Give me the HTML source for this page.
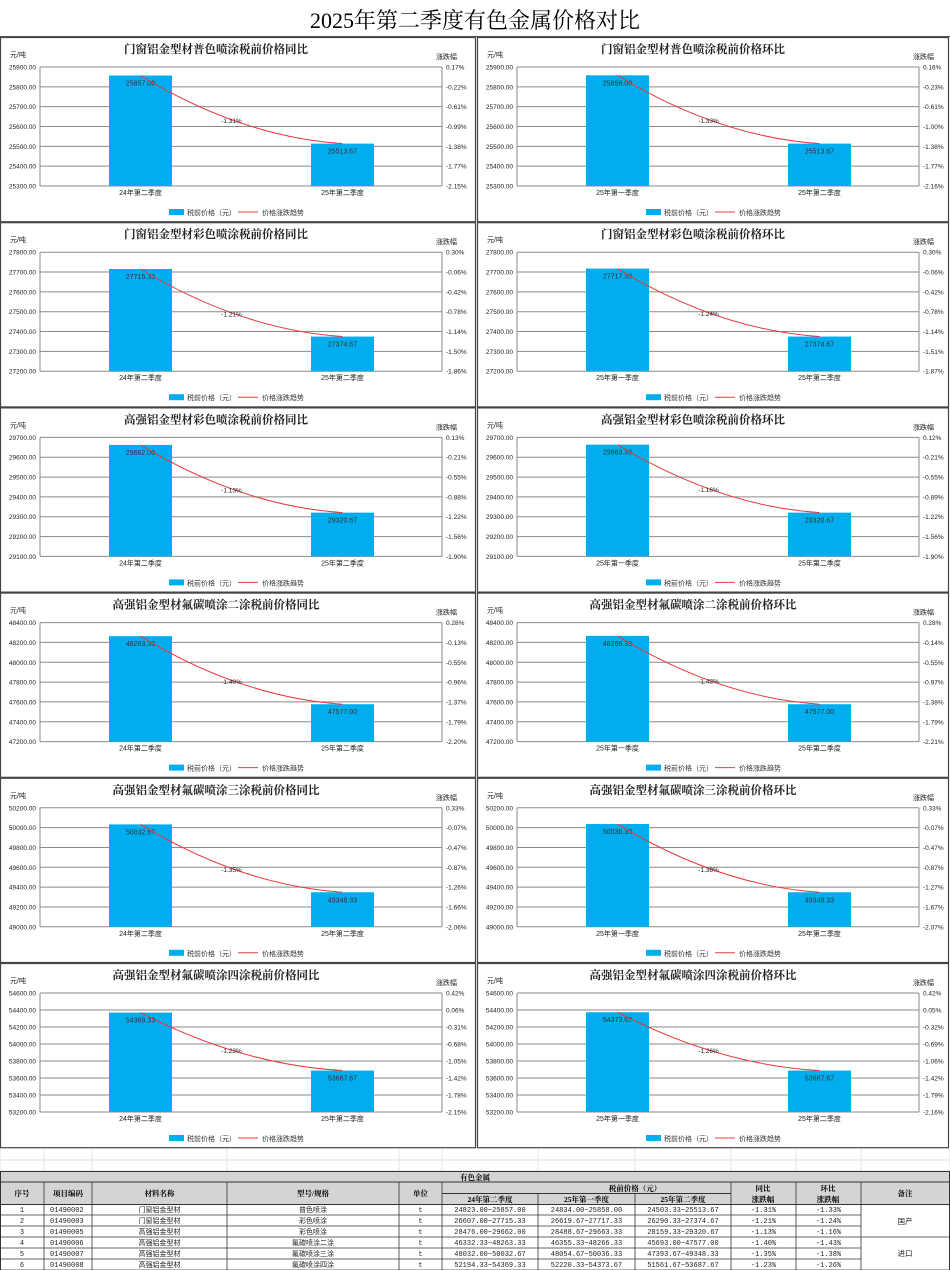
<!DOCTYPE html>
<html><head><meta charset="utf-8">
<style>
html,body{margin:0;padding:0;background:#fff;}
svg{display:block;}
</style></head>
<body>
<svg id="s" width="950" height="1270" xmlns="http://www.w3.org/2000/svg" font-family="'Liberation Sans','Noto Sans CJK SC',sans-serif"></svg>
<script>
var charts=[
["门窗铝金型材普色喷涂税前价格同比",25300,100,6,["0.17%","-0.22%","-0.61%","-0.99%","-1.38%","-1.77%","-2.15%"],["24年第二季度","25年第二季度"],[25857.00,25513.67],"-1.31%"],
["门窗铝金型材普色喷涂税前价格环比",25300,100,6,["0.16%","-0.23%","-0.61%","-1.00%","-1.38%","-1.77%","-2.16%"],["25年第一季度","25年第二季度"],[25858.00,25513.67],"-1.33%"],
["门窗铝金型材彩色喷涂税前价格同比",27200,100,6,["0.30%","-0.06%","-0.42%","-0.78%","-1.14%","-1.50%","-1.86%"],["24年第二季度","25年第二季度"],[27715.33,27374.67],"-1.21%"],
["门窗铝金型材彩色喷涂税前价格环比",27200,100,6,["0.30%","-0.06%","-0.42%","-0.78%","-1.14%","-1.51%","-1.87%"],["25年第一季度","25年第二季度"],[27717.33,27374.67],"-1.24%"],
["高强铝金型材彩色喷涂税前价格同比",29100,100,6,["0.13%","-0.21%","-0.55%","-0.88%","-1.22%","-1.56%","-1.90%"],["24年第二季度","25年第二季度"],[29662.00,29320.67],"-1.13%"],
["高强铝金型材彩色喷涂税前价格环比",29100,100,6,["0.12%","-0.21%","-0.55%","-0.89%","-1.22%","-1.56%","-1.90%"],["25年第一季度","25年第二季度"],[29663.33,29320.67],"-1.16%"],
["高强铝金型材氟碳喷涂二涂税前价格同比",47200,200,6,["0.28%","-0.13%","-0.55%","-0.96%","-1.37%","-1.79%","-2.20%"],["24年第二季度","25年第二季度"],[48263.33,47577.00],"-1.40%"],
["高强铝金型材氟碳喷涂二涂税前价格环比",47200,200,6,["0.28%","-0.14%","-0.55%","-0.97%","-1.38%","-1.79%","-2.21%"],["25年第一季度","25年第二季度"],[48266.33,47577.00],"-1.43%"],
["高强铝金型材氟碳喷涂三涂税前价格同比",49000,200,6,["0.33%","-0.07%","-0.47%","-0.87%","-1.26%","-1.66%","-2.06%"],["24年第二季度","25年第二季度"],[50032.67,49348.33],"-1.35%"],
["高强铝金型材氟碳喷涂三涂税前价格环比",49000,200,6,["0.33%","-0.07%","-0.47%","-0.87%","-1.27%","-1.67%","-2.07%"],["25年第一季度","25年第二季度"],[50036.33,49348.33],"-1.38%"],
["高强铝金型材氟碳喷涂四涂税前价格同比",53200,200,7,["0.42%","0.06%","-0.31%","-0.68%","-1.05%","-1.42%","-1.78%","-2.15%"],["24年第二季度","25年第二季度"],[54369.33,53687.67],"-1.23%"],
["高强铝金型材氟碳喷涂四涂税前价格环比",53200,200,7,["0.42%","0.05%","-0.32%","-0.69%","-1.06%","-1.42%","-1.79%","-2.16%"],["25年第一季度","25年第二季度"],[54373.67,53687.67],"-1.26%"]
];
var h='';
function t(x,y,s,sz,anc,extra){return '<text x="'+x+'" y="'+y+'" font-size="'+sz+'" text-anchor="'+(anc||'start')+'" '+(extra||'')+'>'+s+'</text>';}
h+='<rect x="0" y="0" width="950" height="1270" fill="#fff"/>';
h+=t(475,28,'2025年第二季度有色金属价格对比',22,'middle','font-family="\'Liberation Serif\',\'Noto Serif CJK SC\',serif" fill="#000"');
h+='<line x1="0" y1="36.5" x2="950" y2="36.5" stroke="#555" stroke-width="1"/>';
var rowH=185.2;
for(var i=0;i<12;i++){
 var c=charts[i],col=i%2,row=Math.floor(i/2);
 var px=col?477:0, py=37+row*rowH, pw=col?472:476;
 h+='<rect x="'+(px+0.5)+'" y="'+(py+0.5)+'" width="'+(pw-1)+'" height="'+(rowH-1)+'" fill="#fff" stroke="#444" stroke-width="1.2"/>';
 var L=px+40,R=px+442,T=py+30,B=py+149,n=c[3];
 h+=t(px+216,py+16,c[0],11.5,'middle','font-weight="bold" font-family="\'Liberation Serif\',\'Noto Serif CJK SC\',serif" fill="#222"');
 h+=t(px+10,py+20,'元/吨',7,'start','fill="#222"');
 h+=t(px+436,py+22,'涨跌幅',7,'start','fill="#222"');
 var ymin=c[1],ymax=c[1]+c[2]*n;
 function Y(v){return B-(v-ymin)/(ymax-ymin)*(B-T);}
 for(var k=0;k<=n;k++){
  var yy=B-k*(B-T)/n;
  h+='<line x1="'+L+'" y1="'+yy+'" x2="'+R+'" y2="'+yy+'" stroke="#8a8a8a" stroke-width="1"/>';
  h+=t(L-4,yy+2.5,(ymin+k*c[2]).toFixed(2),6.5,'end','fill="#222"');
  h+=t(R+4,yy+2.5,c[4][n-k],6.5,'start','fill="#222"');
 }
 h+='<line x1="'+L+'" y1="'+T+'" x2="'+L+'" y2="'+B+'" stroke="#8a8a8a"/><line x1="'+R+'" y1="'+T+'" x2="'+R+'" y2="'+B+'" stroke="#8a8a8a"/>';
 var cx=[px+140.5,px+342.5];
 for(var b=0;b<2;b++){
  var yt=Y(c[6][b]);
  h+='<rect x="'+(cx[b]-31.5)+'" y="'+yt+'" width="63" height="'+(B-yt)+'" fill="#00aeef"/>';
  h+=t(cx[b],yt+10,c[6][b].toFixed(2),7,'middle','fill="#333"');
  h+=t(cx[b],py+158,c[5][b],7,'middle','fill="#222"');
 }
 var y1=Y(c[6][0]),y2=Y(c[6][1]),mx=(cx[0]+cx[1])/2;
 h+='<path d="M'+cx[0]+' '+y1+' Q'+mx+' '+(y1+0.9*(y2-y1))+' '+cx[1]+' '+y2+'" fill="none" stroke="#e8383d" stroke-width="1"/>';
 h+=t(mx-10,y1+0.7*(y2-y1),c[7],6.5,'middle','fill="#222"');
 h+='<rect x="'+(px+169)+'" y="'+(py+172)+'" width="15" height="6" fill="#00aeef"/>';
 h+=t(px+187,py+178,'税前价格（元）',7,'start','fill="#333"');
 h+='<line x1="'+(px+238)+'" y1="'+(py+175)+'" x2="'+(px+258)+'" y2="'+(py+175)+'" stroke="#e8383d" stroke-width="1"/>';
 h+=t(px+262,py+178,'价格涨跌趋势',7,'start','fill="#333"');
}
var cols=[0,44,92,227,399,442,538,635,731,796,861,950];
var tf='font-family="\'Liberation Serif\',\'Noto Serif CJK SC\',serif"';
h+='<rect x="0" y="1149" width="950" height="22" fill="#fff"/>';
[1160,1171].forEach(function(y){h+='<line x1="0" y1="'+y+'" x2="950" y2="'+y+'" stroke="#ddd"/>';});
cols.forEach(function(x){h+='<line x1="'+x+'" y1="1149" x2="'+x+'" y2="1171" stroke="#e3e3e3"/>';});
h+='<rect x="0.5" y="1171.5" width="949" height="33" fill="#d4d4d4" stroke="#333"/>';
h+=t(475,1180,'有色金属',7.5,'middle','font-weight="bold" '+tf);
h+='<line x1="0" y1="1182" x2="950" y2="1182" stroke="#333"/>';
var hd=['序号','项目编码','材料名称','型号/规格','单位'];
for(var k=0;k<5;k++)h+=t((cols[k]+cols[k+1])/2,1196,hd[k],7.5,'middle','font-weight="bold" '+tf);
h+=t(635,1191,'税前价格（元）',7.5,'middle','font-weight="bold" '+tf);
h+='<line x1="442" y1="1193.5" x2="731" y2="1193.5" stroke="#333"/>';
['24年第二季度','25年第一季度','25年第二季度'].forEach(function(s,k){h+=t((cols[5+k]+cols[6+k])/2,1202,s,7.5,'middle','font-weight="bold" '+tf);});
h+=t(763,1191,'同比',7.5,'middle','font-weight="bold" '+tf)+t(763,1202,'涨跌幅',7.5,'middle','font-weight="bold" '+tf);
h+=t(828,1191,'环比',7.5,'middle','font-weight="bold" '+tf)+t(828,1202,'涨跌幅',7.5,'middle','font-weight="bold" '+tf);
h+=t(905,1196,'备注',7.5,'middle','font-weight="bold" '+tf);
var rows=[
['1','01490002','门窗铝金型材','普色喷涂','t','24823.00~25857.00','24834.00~25858.00','24503.33~25513.67','-1.31%','-1.33%'],
['2','01490003','门窗铝金型材','彩色喷涂','t','26607.00~27715.33','26619.67~27717.33','26290.33~27374.67','-1.21%','-1.24%'],
['3','01490005','高强铝金型材','彩色喷涂','t','28476.00~29662.00','28488.67~29663.33','28159.33~29320.67','-1.13%','-1.16%'],
['4','01490006','高强铝金型材','氟碳喷涂二涂','t','46332.33~48263.33','46355.33~48266.33','45693.00~47577.00','-1.40%','-1.43%'],
['5','01490007','高强铝金型材','氟碳喷涂三涂','t','48032.00~50032.67','48054.67~50036.33','47393.67~49348.33','-1.35%','-1.38%'],
['6','01490008','高强铝金型材','氟碳喷涂四涂','t','52194.33~54369.33','52220.33~54373.67','51561.67~53687.67','-1.23%','-1.26%']];
var rh=(1270-1204)/6;
rows.forEach(function(r,j){
 var y=1204+j*rh;
 h+='<line x1="0" y1="'+(y+rh)+'" x2="'+(j==2||j==5?950:861)+'" y2="'+(y+rh)+'" stroke="#333" stroke-width="0.8"/>';
 for(var k=0;k<10;k++){
  var anc=(k==1)?'start':'middle', x=(k==1)?cols[1]+6:(cols[k]+cols[k+1])/2;
  h+=t(x,y+8,r[k],7,anc,'font-family="\'Liberation Mono\',\'Noto Sans CJK SC\',monospace" fill="#222"');
 }
});
h+=t(905,1224,'国产',7.5,'middle','fill="#222"');
h+=t(905,1256,'进口',7.5,'middle','fill="#222"');
cols.forEach(function(x,k){
 var y1=(k>=6&&k<=7)?1193.5:1182; if(k==0||k==11)y1=1171;
 h+='<line x1="'+x+'" y1="'+y1+'" x2="'+x+'" y2="1270" stroke="#333" stroke-width="0.8"/>';
});
h+='<line x1="0.5" y1="1171" x2="0.5" y2="1270" stroke="#333"/><line x1="949.5" y1="1171" x2="949.5" y2="1270" stroke="#333"/>';
document.getElementById('s').innerHTML=h;
</script>
</body></html>
